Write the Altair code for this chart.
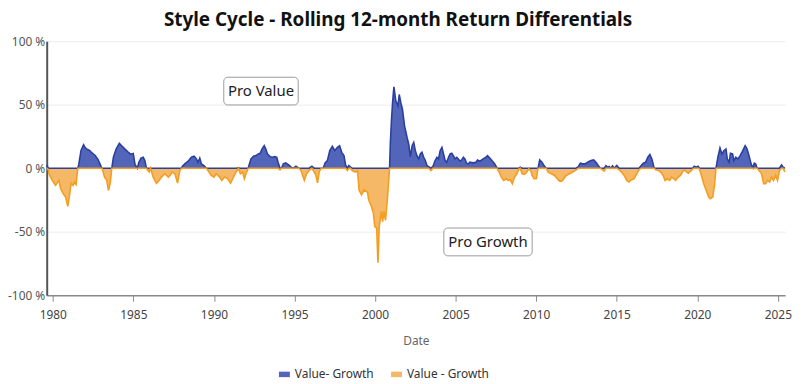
import altair as alt
import pandas as pd

# ---- data (decimal year, value - growth %) ----
years = [
    1979.62, 1979.72, 1979.76, 1979.96, 1980.17, 1980.38, 1980.48, 1980.64, 1980.79, 1980.93,
    1981.05, 1981.13, 1981.26, 1981.34, 1981.44, 1981.55, 1981.61, 1981.75, 1981.91, 1982.02,
    1982.12, 1982.28, 1982.43, 1982.63, 1982.80, 1982.94, 1983.04, 1983.10, 1983.21, 1983.35,
    1983.45, 1983.56, 1983.66, 1983.76, 1983.93, 1984.13, 1984.27, 1984.48, 1984.69, 1984.83,
    1984.99, 1985.10, 1985.24, 1985.34, 1985.47, 1985.61, 1985.71, 1985.81, 1985.98, 1986.06,
    1986.23, 1986.43, 1986.59, 1986.74, 1986.95,
    1987.17, 1987.27, 1987.41, 1987.58, 1987.74, 1987.88, 1987.99, 1988.03, 1988.19, 1988.40,
    1988.60, 1988.77, 1988.91, 1989.01, 1989.12, 1989.22, 1989.38, 1989.53, 1989.63, 1989.83,
    1990.00, 1990.14, 1990.35, 1990.49, 1990.66, 1990.86, 1991.03, 1991.17, 1991.37, 1991.52,
    1991.64, 1991.78, 1991.89, 1991.99, 1992.13, 1992.20, 1992.30, 1992.46, 1992.61, 1992.75,
    1992.87, 1992.98, 1993.12, 1993.22, 1993.32, 1993.49, 1993.63, 1993.78, 1993.90, 1993.98,
    1994.10, 1994.19, 1994.31, 1994.45, 1994.64,
    1994.79, 1994.93, 1995.09, 1995.26, 1995.40, 1995.61, 1995.75, 1995.91, 1996.08, 1996.22,
    1996.33, 1996.43, 1996.53, 1996.63, 1996.78, 1996.90, 1997.04, 1997.19, 1997.35, 1997.50,
    1997.66, 1997.80, 1997.93, 1998.07, 1998.17, 1998.28, 1998.38, 1998.48, 1998.58, 1998.79,
    1998.91, 1999.01, 1999.16, 1999.32, 1999.53, 1999.61, 1999.77, 1999.90, 1999.98, 2000.10,
    2000.18, 2000.26, 2000.39, 2000.47, 2000.55, 2000.65, 2000.76, 2000.90, 2000.95, 2001.02,
    2001.09, 2001.17, 2001.29, 2001.42, 2001.50, 2001.60, 2001.70, 2001.83, 2001.99,
    2002.09, 2002.19, 2002.30, 2002.40, 2002.50, 2002.60, 2002.71, 2002.81, 2002.91, 2003.02,
    2003.12, 2003.22, 2003.32, 2003.47, 2003.59, 2003.73, 2003.84, 2003.94, 2004.04, 2004.15,
    2004.25, 2004.35, 2004.45, 2004.56, 2004.66, 2004.76, 2004.86, 2004.97, 2005.07, 2005.17,
    2005.27, 2005.38, 2005.48, 2005.58, 2005.68, 2005.79, 2005.89, 2006.09, 2006.26, 2006.36,
    2006.51, 2006.71, 2006.88, 2006.98, 2007.12, 2007.29, 2007.43, 2007.57, 2007.70, 2007.84,
    2007.98, 2008.15, 2008.25, 2008.39, 2008.52, 2008.66, 2008.80, 2008.93, 2009.01, 2009.13,
    2009.28, 2009.42, 2009.54, 2009.67,
    2009.75, 2009.87, 2010.01, 2010.12, 2010.22, 2010.36, 2010.53, 2010.63, 2010.73, 2010.94,
    2011.14, 2011.31, 2011.45, 2011.59, 2011.72, 2011.86, 2012.07, 2012.27, 2012.48, 2012.62,
    2012.74, 2012.89, 2013.03, 2013.20, 2013.40, 2013.57, 2013.71, 2013.85, 2013.98, 2014.12,
    2014.22, 2014.33, 2014.43, 2014.53, 2014.63, 2014.74, 2014.84, 2015.00, 2015.15, 2015.29,
    2015.46, 2015.62, 2015.76, 2015.91, 2016.07, 2016.24, 2016.38, 2016.52, 2016.65, 2016.79,
    2016.93, 2017.06, 2017.18, 2017.26,
    2017.32, 2017.42, 2017.59, 2017.73, 2017.88, 2018.00, 2018.14, 2018.29, 2018.41, 2018.55,
    2018.66, 2018.82, 2018.96, 2019.07, 2019.17, 2019.27, 2019.44, 2019.58, 2019.72, 2019.81,
    2019.93, 2020.05, 2020.13, 2020.26, 2020.40, 2020.55, 2020.71, 2020.81, 2020.96, 2021.08,
    2021.16, 2021.28, 2021.41, 2021.53, 2021.65, 2021.78, 2021.86, 2021.98, 2022.06, 2022.19,
    2022.27, 2022.39, 2022.52, 2022.66, 2022.80, 2022.97, 2023.09, 2023.21, 2023.34, 2023.46,
    2023.54, 2023.62, 2023.71, 2023.83, 2023.99, 2024.12, 2024.24, 2024.36, 2024.49, 2024.61,
    2024.73, 2024.86, 2024.98, 2025.10, 2025.23, 2025.33, 2025.43,
]
diffs = [
    2.5, -1.0, -4.4, -9.6, -13.5, -9.6, -16.0, -20.0, -22.6, -30.0,
    -20.0, -12.0, -13.5, -11.0, -12.8, 0.0, 3.0, 14.0, 18.5, 16.0,
    15.0, 14.0, 12.0, 10.0, 7.0, 3.0, 0.0, -1.8, -7.0, -9.6,
    -17.5, -12.0, 0.0, 8.6, 15.0, 19.5, 17.7, 15.0, 12.5, 11.0,
    11.5, 3.0, 0.0, 4.7, 8.0, 8.6, 6.0, 0.0, -3.0, 0.0,
    -7.0, -12.0, -9.6, -7.0, -4.4,
    -7.0, -5.7, -3.0, -4.4, -11.7, -1.8, 0.0, 1.3, 3.4, 5.5,
    8.6, 9.4, 7.3, 4.7, 8.0, 3.4, 2.1, 0.0, -1.8, -5.7,
    -7.0, -4.4, -7.0, -9.6, -7.0, -8.3, -11.7, -8.3, -3.0, 0.3,
    -4.4, -3.0, -8.3, -4.4, 0.0, 3.4, 7.3, 9.4, 9.9, 11.2,
    11.7, 15.0, 17.7, 15.0, 11.2, 9.1, 8.6, 9.1, 8.6, 4.7,
    -1.3, 0.0, 3.4, 4.2, 2.6,
    0.8, 0.0, 1.6, 0.0, -1.8, -9.6, -4.4, -1.8, 1.6, -3.0,
    -5.7, -11.5, -3.0, -0.5, 0.0, 4.2, 6.0, 13.8, 17.2, 13.8,
    16.4, 17.7, 12.5, 9.9, 2.6, -1.8, 2.1, 0.8, -1.8, -3.0,
    -1.8, -17.4, -21.0, -17.0, -19.0, -25.0, -30.0, -35.7, -46.0, -47.0,
    -74.5, -46.0, -34.0, -42.0, -34.0, -41.0, -25.0, 0.0, 20.0, 38.0,
    52.0, 64.0, 52.9, 49.0, 58.0, 51.6, 46.4, 33.3, 24.0,
    19.0, 9.0, 17.7, 20.3, 13.8, 9.9, 7.3, 11.2, 12.5, 8.6,
    6.0, 2.1, 1.3, -1.8, 1.3, 6.0, 8.6, 7.3, 13.8, 16.4,
    11.2, 6.0, 4.7, 8.6, 11.2, 11.7, 9.9, 7.3, 8.6, 7.3,
    5.5, 6.5, 8.6, 7.3, 3.9, 3.4, 4.7, 4.2, 4.7, 6.5,
    5.5, 7.3, 8.6, 9.9, 8.0, 5.5, 3.4, 0.0, -3.0, -7.0,
    -9.6, -8.3, -9.6, -9.1, -12.2, -7.0, -4.4, -0.5, 0.8, -4.4,
    -4.9, -3.0, -0.5, -2.0,
    -5.7, -8.3, -8.3, 0.0, 6.5, 4.7, 1.3, 0.0, -3.0, -4.4,
    -5.7, -8.3, -10.2, -10.2, -8.3, -5.7, -4.4, -3.0, -1.3, 1.3,
    3.9, 3.4, 3.4, 4.7, 6.0, 6.5, 4.7, 2.1, 0.0, -1.3,
    -2.3, 2.0, 0.8, 1.3, 0.0, 1.8, 0.0, 2.1, -1.3, -3.0,
    -5.7, -9.6, -10.9, -9.1, -8.3, -4.4, -1.3, 2.1, 3.9, 4.7,
    8.6, 10.7, 7.3, 3.4,
    0.0, -1.3, -1.8, -3.0, -5.7, -9.6, -8.3, -9.6, -7.0, -8.3,
    -9.6, -7.0, -5.7, -3.0, -1.3, -2.3, -3.9, -2.3, -0.5, 1.6,
    0.8, 1.6, -0.5, -5.7, -12.2, -17.4, -22.7, -24.0, -22.7, -12.2,
    0.0, 8.6, 15.9, 11.2, 13.8, 15.1, 7.3, 4.7, 11.7, 11.2,
    6.0, 8.6, 7.3, 9.9, 13.3, 17.7, 15.0, 9.9, 3.4, 0.3,
    3.9, 3.4, 0.0, -1.8, -4.4, -12.2, -12.2, -9.6, -10.9, -7.0,
    -9.6, -5.7, -9.6, -1.8, 2.6, 0.8, -3.0,
]

series_names = ["Value- Growth", "Value - Growth"]
fill_colors = ["#4A5DB5", "#F3B45E"]
line_colors = ["#2B3F9E", "#F49D1F"]
year_ticks = [1980, 1985, 1990, 1995, 2000, 2005, 2010, 2015, 2020, 2025]
pct_ticks = [-100, -50, 0, 50, 100]

ann_labels = ["Pro Value", "Pro Growth"]
ann_x = [1992.92, 2007.01]
ann_y = [60.5, -58.0]
ann_x1 = [1990.61, 2004.27]
ann_x2 = [1995.23, 2009.75]
ann_y1 = [71.6, -47.1]
ann_y2 = [49.8, -69.0]

base = pd.DataFrame({"year": years, "v": diffs})
pos = base.assign(series=series_names[0], val=base["v"].clip(lower=0))
neg = base.assign(series=series_names[1], val=base["v"].clip(upper=0))
df = pd.concat([pos, neg], ignore_index=True)

ann = pd.DataFrame({"label": ann_labels, "x": ann_x, "y": ann_y,
                    "x1": ann_x1, "x2": ann_x2, "y1": ann_y1, "y2": ann_y2})

FONT = "Noto Sans"

xscale = alt.Scale(domain=[1979.62, 2025.45], nice=False, zero=False)
yscale = alt.Scale(domain=[-100, 100], nice=False)

X = alt.X("year:Q", title="Date", scale=xscale,
          axis=alt.Axis(values=year_ticks, format="d", grid=False, domainColor="#8a8a8a",
                        domainWidth=1.5, tickColor="#8a8a8a", tickSize=6, labelPadding=8,
                        labelColor="#444", labelFontSize=12, labelFont=FONT,
                        titleColor="#666", titleFontSize=12, titleFont=FONT,
                        titleFontWeight="normal", titlePadding=16))
Y = alt.Y("val:Q", stack=None, title=None, scale=yscale,
          axis=alt.Axis(values=pct_ticks, labelExpr="datum.value + ' %'", ticks=False,
                        domainColor="#555", domainWidth=2, gridColor="#ececec",
                        labelColor="#555", labelFontSize=12, labelFont=FONT, labelPadding=2))

areas = alt.Chart(df).mark_area(opacity=0.95).encode(
    x=X, y=Y,
    color=alt.Color("series:N", sort=series_names,
                    scale=alt.Scale(domain=series_names, range=fill_colors),
                    legend=alt.Legend(title=None, orient="none", legendX=233, legendY=329,
                                      direction="horizontal", labelFont=FONT, labelFontSize=12,
                                      labelColor="#333", columnPadding=16,
                                      symbolType="M-1,-0.5H1V0.5H-1Z", symbolSize=121)),
)
lines = alt.Chart(df).mark_line(strokeWidth=1.6).encode(
    x=X, y=Y,
    stroke=alt.Stroke("series:N", sort=series_names,
                      scale=alt.Scale(domain=series_names, range=line_colors), legend=None),
)

boxes = alt.Chart(ann).mark_rect(fill="white", stroke="#9a9a9a", strokeWidth=1,
                                 cornerRadius=4).encode(
    x=alt.X("x1:Q", scale=xscale), x2="x2:Q",
    y=alt.Y("y1:Q", scale=yscale), y2="y2:Q",
)
texts = alt.Chart(ann).mark_text(fontSize=15, font=FONT, color="#222").encode(
    x=alt.X("x:Q", scale=xscale), y=alt.Y("y:Q", scale=yscale), text="label:N",
)

chart = alt.layer(areas, lines, boxes, texts).resolve_scale(color="independent").properties(
    width=744, height=256,
    title=alt.TitleParams("Style Cycle - Rolling 12-month Return Differentials",
                          fontSize=19, font=FONT, fontWeight="bold", color="#111",
                          anchor="middle", dx=-18, offset=5),
    autosize=alt.AutoSizeParams(type="none"),
    padding={"left": 39, "top": 32, "right": 12, "bottom": 86},
).configure_view(stroke=None)

chart.save("out.html", embed_options={"renderer": "svg", "actions": False})
